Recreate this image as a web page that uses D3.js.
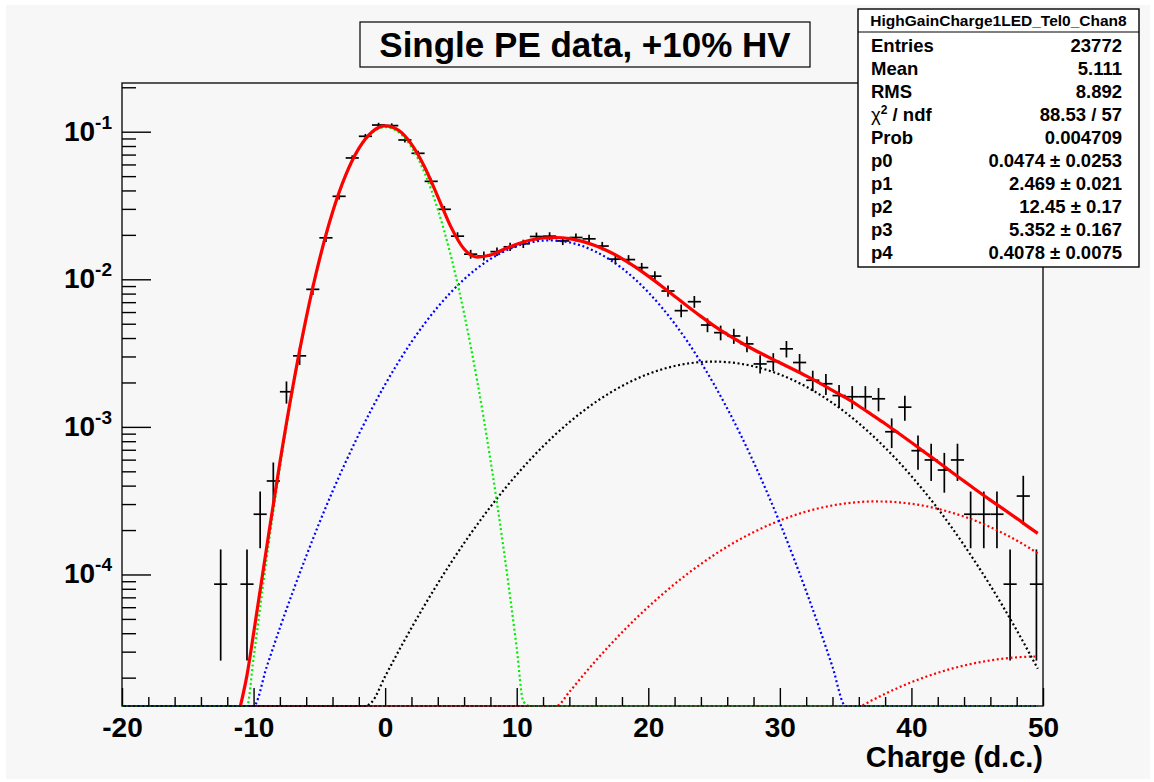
<!DOCTYPE html>
<html>
<head>
<meta charset="utf-8">
<script src="https://cdn.jsdelivr.net/npm/d3@7"></script>
<style>
  body { margin: 0; background: #ffffff; }
  svg { display: block; font-family: "Liberation Sans", Arial, Helvetica, sans-serif; }
</style>
</head>
<body>
<svg width="1154" height="782"></svg>
<script>
// histogram bins (bin centre, content, error)
var binX = [-12.5, -10.5, -9.5, -8.5, -7.5, -6.5, -5.5, -4.5, -3.5, -2.5,
  -1.5, -0.5, 0.5, 1.5, 2.5, 3.5, 4.5, 5.5, 6.5, 7.5,
  8.5, 9.5, 10.5, 11.5, 12.5, 13.5, 14.5, 15.5, 16.5, 17.5,
  18.5, 19.5, 20.5, 21.5, 22.5, 23.5, 24.5, 25.5, 26.5, 27.5,
  28.5, 29.5, 30.5, 31.5, 32.5, 33.5, 34.5, 35.5, 36.5, 37.5,
  38.5, 39.5, 40.5, 41.5, 42.5, 43.5, 44.5, 45.5, 46.5, 47.5, 48.5, 49.5];
var binY = [8.6e-5, 8.6e-5, 2.56e-4, 4.3e-4, 1.73e-3, 3.03e-3, 8.55e-3, 0.0191, 0.0365, 0.0664,
  0.0931, 0.111, 0.110, 0.0879, 0.0714, 0.0461, 0.0298, 0.0196, 0.0148, 0.0144,
  0.0154, 0.0166, 0.0174, 0.0195, 0.0196, 0.0182, 0.0192, 0.0188, 0.0168, 0.0137,
  0.0136, 0.0120, 0.0105, 0.00833, 0.00613, 0.00705, 0.0049, 0.00435, 0.00413, 0.00365,
  0.00267, 0.00277, 0.00338, 0.00273, 0.00207, 0.00196, 0.00163, 0.0016, 0.0016, 0.00155,
  0.000927, 0.00136, 0.00069, 0.000597, 0.00051, 0.000597, 0.000256, 0.000256, 0.000256, 0.000086, 0.00034, 0.000086];
var binErr = [5.95e-5, 5.95e-5, 1.03e-4, 1.35e-4, 2.7e-4, 3.57e-4, 6.0e-4, 8.96e-4, 1.24e-3, 1.67e-3,
  1.98e-3, 2.16e-3, 2.15e-3, 1.92e-3, 1.73e-3, 1.39e-3, 1.12e-3, 9.1e-4, 7.9e-4, 7.8e-4,
  8.0e-4, 8.3e-4, 8.6e-4, 9.1e-4, 9.1e-4, 8.7e-4, 9.0e-4, 8.9e-4, 8.4e-4, 7.6e-4,
  7.6e-4, 7.1e-4, 6.65e-4, 5.9e-4, 5.1e-4, 5.4e-4, 4.5e-4, 4.3e-4, 4.2e-4, 3.9e-4,
  3.35e-4, 3.4e-4, 3.8e-4, 3.4e-4, 2.95e-4, 2.9e-4, 2.6e-4, 2.6e-4, 2.6e-4, 2.55e-4,
  1.97e-4, 2.4e-4, 1.7e-4, 1.6e-4, 1.46e-4, 1.6e-4, 1.03e-4, 1.03e-4, 1.03e-4, 5.95e-5, 1.19e-4, 5.95e-5];

// fit curves, [charge, value]
var pedestalFit = [[-20, 0], [-11, 4.8e-6], [-10.5, 1.17e-5], [-10, 2.72e-5], [-9, 1.30e-4], [-8, 5.30e-4],
  [-7, 1.83e-3], [-6, 5.35e-3], [-5, 0.0133], [-4, 0.0281], [-3, 0.0502], [-2, 0.0762], [-1, 0.0983],
  [0, 0.1075], [1, 0.0998], [2, 0.0786], [3, 0.0526], [4, 0.0298], [5, 0.01436], [6, 5.87e-3],
  [7, 2.04e-3], [8, 6.0e-4], [9, 1.50e-4], [10, 3.18e-5], [10.5, 1.38e-5], [11, 5.7e-6], [49.6, 0]];
var onePeFit = [[-20, 0], [-10.5, 9.1e-6], [-10, 1.26e-5], [-9, 2.37e-5], [-8, 4.34e-5], [-7, 7.71e-5],
  [-6, 1.33e-4], [-5, 2.24e-4], [-4, 3.65e-4], [-3, 5.78e-4], [-2, 8.91e-4], [-1, 1.333e-3], [0, 1.938e-3],
  [1, 2.737e-3], [2, 3.76e-3], [3, 5.01e-3], [4, 6.49e-3], [5, 8.17e-3], [6, 0.0100], [7, 0.01189],
  [8, 0.01372], [9, 0.01539], [10, 0.01679], [11, 0.01778], [12, 0.01829], [12.5, 0.01836], [13, 0.01829],
  [14, 0.01778], [15, 0.01679], [16, 0.01539], [17, 0.01372], [18, 0.01189], [19, 0.0100], [20, 8.17e-3],
  [21, 6.49e-3], [22, 5.01e-3], [23, 3.76e-3], [24, 2.737e-3], [25, 1.938e-3], [26, 1.333e-3], [27, 8.91e-4],
  [28, 5.78e-4], [29, 3.65e-4], [30, 2.24e-4], [31, 1.33e-4], [32, 7.71e-5], [33, 4.34e-5], [34, 2.37e-5],
  [35, 1.26e-5], [35.5, 9.1e-6], [49.6, 0]];
var twoPeFit = [[-20, 0], [-1.5, 1.11e-5], [-1, 1.37e-5], [0, 2.04e-5], [1, 3.0e-5], [2, 4.35e-5], [3, 6.19e-5],
  [4, 8.69e-5], [5, 1.20e-4], [6, 1.63e-4], [7, 2.18e-4], [8, 2.87e-4], [9, 3.72e-4], [10, 4.75e-4],
  [11, 5.97e-4], [12, 7.38e-4], [13, 8.98e-4], [14, 1.076e-3], [15, 1.269e-3], [16, 1.473e-3], [17, 1.683e-3],
  [18, 1.892e-3], [19, 2.095e-3], [20, 2.283e-3], [21, 2.449e-3], [22, 2.586e-3], [23, 2.688e-3], [24, 2.750e-3],
  [25, 2.770e-3], [26, 2.746e-3], [27, 2.680e-3], [28, 2.574e-3], [29, 2.433e-3], [30, 2.265e-3], [31, 2.076e-3],
  [32, 1.872e-3], [33, 1.662e-3], [34, 1.452e-3], [35, 1.249e-3], [36, 1.057e-3], [37, 8.81e-4], [38, 7.23e-4],
  [39, 5.84e-4], [40, 4.64e-4], [41, 3.63e-4], [42, 2.80e-4], [43, 2.12e-4], [44, 1.58e-4], [45, 1.16e-4],
  [46, 8.41e-5], [47, 5.98e-5], [48, 4.19e-5], [49, 2.89e-5], [49.6, 2.3e-5]];
var threePeFit = [[-20, 0], [13, 1.23e-5], [14, 1.60e-5], [15, 2.05e-5], [16, 2.60e-5], [17, 3.26e-5],
  [18, 4.05e-5], [19, 4.97e-5], [20, 6.03e-5], [21, 7.25e-5], [22, 8.62e-5], [23, 1.013e-4], [24, 1.178e-4],
  [25, 1.356e-4], [26, 1.543e-4], [27, 1.737e-4], [28, 1.934e-4], [29, 2.131e-4], [30, 2.321e-4], [31, 2.502e-4],
  [32, 2.668e-4], [33, 2.814e-4], [34, 2.936e-4], [35, 3.030e-4], [36, 3.094e-4], [37, 3.124e-4], [38, 3.121e-4],
  [39, 3.084e-4], [40, 3.014e-4], [41, 2.914e-4], [42, 2.787e-4], [43, 2.636e-4], [44, 2.467e-4], [45, 2.284e-4],
  [46, 2.092e-4], [47, 1.895e-4], [48, 1.698e-4], [49, 1.505e-4], [49.6, 1.39e-4]];
var fourPeFit = [[-20, 0], [36, 1.257e-5], [37, 1.404e-5], [38, 1.556e-5], [39, 1.709e-5], [40, 1.863e-5],
  [41, 2.012e-5], [42, 2.157e-5], [43, 2.292e-5], [44, 2.416e-5], [45, 2.526e-5], [46, 2.618e-5],
  [47, 2.692e-5], [48, 2.745e-5], [49, 2.776e-5], [49.6, 2.782e-5]];
var totalFit = [[-11, 1.13e-5], [-10.5, 2.08e-5], [-10, 3.98e-5], [-9, 1.537e-4], [-8, 5.73e-4], [-7, 1.907e-3],
  [-6, 5.48e-3], [-5, 0.01352], [-4, 0.02847], [-3, 0.05084], [-2, 0.0771], [-1, 0.09965], [0, 0.10946],
  [1, 0.10257], [2, 0.0824], [3, 0.05767], [4, 0.03638], [5, 0.02265], [6, 0.01603], [7, 0.01415],
  [8, 0.01461], [9, 0.01591], [10, 0.0173], [11, 0.01838], [12, 0.01904], [13, 0.0192], [14, 0.01887],
  [15, 0.01808], [16, 0.01689], [17, 0.01544], [18, 0.01382], [19, 0.01214], [20, 0.01051], [21, 9.01e-3],
  [22, 7.68e-3], [23, 6.55e-3], [24, 5.61e-3], [25, 4.84e-3], [26, 4.23e-3], [27, 3.745e-3], [28, 3.345e-3],
  [29, 3.011e-3], [30, 2.721e-3], [31, 2.459e-3], [32, 2.216e-3], [33, 1.986e-3], [34, 1.77e-3], [35, 1.576e-3],
  [36, 1.385e-3], [37, 1.207e-3], [38, 1.051e-3], [39, 9.09e-4], [40, 7.84e-4], [41, 6.74e-4], [42, 5.81e-4],
  [43, 4.99e-4], [44, 4.29e-4], [45, 3.69e-4], [46, 3.19e-4], [47, 2.77e-4], [48, 2.40e-4], [49, 2.07e-4],
  [49.6, 1.90e-4]];

// axis ticks
var xMajor = [-20, -10, 0, 10, 20, 30, 40, 50];
var yMajor = [1e-1, 1e-2, 1e-3, 1e-4];
var yMajorExp = ["-1", "-2", "-3", "-4"];

// stats box text
var statTitle = "HighGainCharge1LED_Tel0_Chan8";
var statLabels = ["Entries", "Mean", "RMS", "chi2", "Prob", "p0", "p1", "p2", "p3", "p4"];
var statValues = ["23772", "5.111", "8.892", "88.53 / 57", "0.004709", "0.0474 \u00b1 0.0253",
  "2.469 \u00b1 0.021", "12.45 \u00b1 0.17", "5.352 \u00b1 0.167", "0.4078 \u00b1 0.0075"];

var titleText = "Single PE data, +10% HV";
var xTitle = "Charge (d.c.)";

var svg = d3.select("svg");
var bg = "#f7f7f7";

// canvas
svg.append("rect").attr("x", 6).attr("y", 5).attr("width", 1144).attr("height", 774).attr("fill", bg);

var x = d3.scaleLinear().domain([-20, 50]).range([122, 1043]);
var y = d3.scaleLog().domain([1.285e-5, 0.2138]).range([706, 83]);
var yMin = 1.285e-5;

// minor ticks
var xMinor = d3.range(-18, 50, 2).filter(function (d) { return d % 10 != 0; });
var yMinor = [];
[-5, -4, -3, -2, -1].forEach(function (e) {
  for (var m = 2; m <= 9; m++) {
    var v = m * Math.pow(10, e);
    if (v > yMin && v < 0.2138) yMinor.push(v);
  }
});

// frame
svg.append("rect").attr("x", 122).attr("y", 83).attr("width", 921).attr("height", 623)
  .attr("fill", bg).attr("stroke", "none");

var clip = svg.append("clipPath").attr("id", "plotclip");
clip.append("rect").attr("x", 120).attr("y", 80).attr("width", 925).attr("height", 628);

var plot = svg.append("g").attr("clip-path", "url(#plotclip)");

// data points with error bars
binX.forEach(function (c, i) {
  var v = binY[i], e = binErr[i];
  plot.append("line")
    .attr("x1", x(c - 0.5)).attr("x2", x(c + 0.5))
    .attr("y1", y(v)).attr("y2", y(v))
    .attr("stroke", "#000").attr("stroke-width", 1.7);
  plot.append("line")
    .attr("x1", x(c)).attr("x2", x(c))
    .attr("y1", y(v + e) - 1).attr("y2", y(Math.max(v - e, yMin)) + 1)
    .attr("stroke", "#000").attr("stroke-width", 1.7);
});

var line = d3.line()
  .x(function (d) { return x(d[0]); })
  .y(function (d) { return y(Math.max(d[1], yMin)); })
  .curve(d3.curveMonotoneX);

function dotted(data, color, offset) {
  plot.append("path").datum(data)
    .attr("d", line)
    .attr("fill", "none")
    .attr("stroke", color)
    .attr("stroke-width", 2.2)
    .attr("stroke-dasharray", "2,2.6")
    .attr("stroke-dashoffset", offset);
}

dotted(fourPeFit, "#ff0000", 0);
dotted(threePeFit, "#ff0000", 1.2);
dotted(twoPeFit, "#000000", 2.4);
dotted(onePeFit, "#0000ff", 3.6);
dotted(pedestalFit, "#00ee00", 0.6);

plot.append("path").datum(totalFit)
  .attr("d", line)
  .attr("fill", "none")
  .attr("stroke", "#ff0000")
  .attr("stroke-width", 3.2);

// frame outline
svg.append("rect").attr("x", 122).attr("y", 83).attr("width", 921).attr("height", 623)
  .attr("fill", "none").attr("stroke", "#111").attr("stroke-width", 1.4);

// x axis
var gx = svg.append("g").attr("transform", "translate(0,706)")
  .call(d3.axisBottom(x).tickValues(xMajor).tickSize(-18).tickFormat(function (d) { return String(d); }));
gx.select(".domain").remove();
gx.attr("font-size", 28).attr("font-weight", "bold").attr("font-family", null).attr("color", "#000");
gx.selectAll("line").attr("stroke-width", 1.4);
gx.selectAll("text").attr("y", 31).attr("dy", null);

var gxm = svg.append("g").attr("transform", "translate(0,706)")
  .call(d3.axisBottom(x).tickValues(xMinor).tickSize(-9).tickFormat(""));
gxm.select(".domain").remove();
gxm.attr("color", "#000").selectAll("line").attr("stroke-width", 1.4);

// y axis
var gy = svg.append("g").attr("transform", "translate(122,0)")
  .call(d3.axisLeft(y).tickValues(yMajor).tickSize(-29).tickFormat(""));
gy.select(".domain").remove();
gy.attr("color", "#000").selectAll("line").attr("stroke-width", 1.4);

var gym = svg.append("g").attr("transform", "translate(122,0)")
  .call(d3.axisLeft(y).tickValues(yMinor).tickSize(-14).tickFormat(""));
gym.select(".domain").remove();
gym.attr("color", "#000").selectAll("line").attr("stroke-width", 1.4);

yMajor.forEach(function (v, i) {
  var t = svg.append("text")
    .attr("x", 112).attr("y", y(v) + 9)
    .attr("text-anchor", "end")
    .attr("font-size", 28).attr("font-weight", "bold");
  t.append("tspan").text("10");
  t.append("tspan").attr("dy", -12).attr("font-size", 19).text(yMajorExp[i]);
});

// x title
svg.append("text").attr("x", 1043).attr("y", 767)
  .attr("text-anchor", "end").attr("font-size", 29).attr("font-weight", "bold")
  .text(xTitle);

// title box
svg.append("rect").attr("x", 360).attr("y", 22).attr("width", 450).attr("height", 45)
  .attr("fill", bg).attr("stroke", "#000").attr("stroke-width", 1.2);
svg.append("text").attr("x", 585).attr("y", 57)
  .attr("text-anchor", "middle").attr("font-size", 35).attr("font-weight", "bold")
  .text(titleText);

// stats box
var sx0 = 858, sx1 = 1139, sy0 = 9, sy1 = 267;
svg.append("rect").attr("x", sx0).attr("y", sy0).attr("width", sx1 - sx0).attr("height", sy1 - sy0)
  .attr("fill", "#ffffff").attr("stroke", "#000").attr("stroke-width", 1.4);
svg.append("line").attr("x1", sx0).attr("x2", sx1).attr("y1", 32).attr("y2", 32)
  .attr("stroke", "#000").attr("stroke-width", 1.2);
svg.append("text").attr("x", (sx0 + sx1) / 2).attr("y", 26)
  .attr("text-anchor", "middle").attr("font-size", 15.5).attr("font-weight", "bold")
  .text(statTitle);

statLabels.forEach(function (lab, i) {
  var yy = 45 + i * 23.06 + 6.8;
  var t = svg.append("text").attr("x", 871).attr("y", yy)
    .attr("font-size", 18.5).attr("font-weight", "bold");
  if (lab == "chi2") {
    t.append("tspan").attr("font-weight", "normal").text("\u03c7");
    t.append("tspan").attr("dy", -7).attr("font-size", 12).text("2");
    t.append("tspan").attr("dy", 7).text(" / ndf");
  } else {
    t.text(lab);
  }
  svg.append("text").attr("x", 1122).attr("y", yy)
    .attr("text-anchor", "end").attr("font-size", 18.5).attr("font-weight", "bold")
    .text(statValues[i]);
});
</script>
</body>
</html>
